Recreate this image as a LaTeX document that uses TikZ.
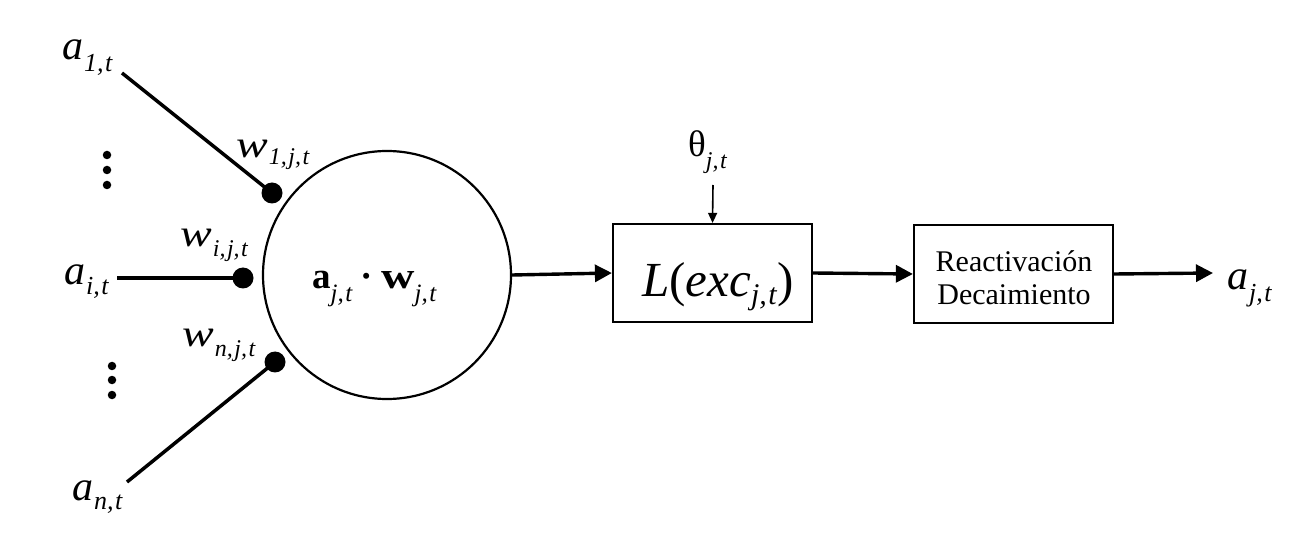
\documentclass[tikz,border=0pt]{standalone}
\usepackage{fontspec}
\setmainfont{Liberation Serif}
\usetikzlibrary{arrows.meta}
\newcommand\fz[1]{\fontsize{#1}{#1}\selectfont}
\newcommand\lowsub[3]{\raisebox{-#1pt}{\fz{#2}\textit{#3}}}
\newcommand\cm{,\kern1.5pt}
\newcommand\wideW[1]{\scalebox{1.25}[1]{#1}}
\begin{document}
\begin{tikzpicture}[x=1pt,y=-1pt,
  lbl/.style={inner sep=0pt, anchor=base west},
  wire/.style={line width=3.5pt},
  wdot/.style={circle, fill=black, inner sep=0pt, minimum size=21pt},
  vdot/.style={circle, fill=black, inner sep=0pt, minimum size=8.5pt},
  flow/.style={line width=3.4pt, -{Triangle[length=17pt,width=17pt]}},
  thinflow/.style={line width=1.6pt, -{Triangle[length=10pt,width=9pt]}},
  boxn/.style={draw, line width=2.2pt, minimum width=199pt, minimum height=98pt, inner sep=0pt},
  neuron/.style={circle, draw, line width=2.2pt, minimum size=248pt, inner sep=0pt}
]
\useasboundingbox[fill=white] (0,0) rectangle (1315,545);

% neuron body
\node[neuron] (n) at (387,275) {};
\node[lbl] (nt) at (312,289) {\fz{37}\textbf{a}\lowsub{13}{25}{j\cm t}\kern 8pt\textbf{·}\kern 8pt\wideW{\textbf{w}}\lowsub{13}{25}{j\cm t}};

% weight dots
\node[wdot] (d1) at (272,193) {};
\node[wdot] (di) at (243,278) {};
\node[wdot] (dn) at (275,362) {};

% input labels
\node[lbl] (a1) at (62,60) {\fz{42}\textit{a}\kern1pt\lowsub{12}{26}{1\cm t}};
\node[lbl] (ai) at (64,285) {\fz{42}\textit{a}\kern1pt\lowsub{10}{26}{i\cm t}};
\node[lbl] (an) at (72,500) {\fz{42}\textit{a}\kern1pt\lowsub{9}{26}{n\cm t}};

% weight labels
\node[lbl] (w1) at (236,158) {\fz{38}\wideW{\textit{w}}\kern1pt\lowsub{7}{24}{1\cm j\cm t}};
\node[lbl] (wi) at (180,247) {\fz{38}\wideW{\textit{w}}\kern1pt\lowsub{10}{24}{i\cm j\cm t}};
\node[lbl] (wn) at (182,347) {\fz{38}\wideW{\textit{w}}\kern1pt\lowsub{10}{24}{n\cm j\cm t}};

% input line start points
\coordinate (s1) at (122,73);
\coordinate (si) at (117,278);
\coordinate (sn) at (127,482);
\draw[wire] (s1) -- (d1.center);
\draw[wire] (si) -- (di.center);
\draw[wire] (sn) -- (dn.center);

% vertical ellipsis dots
\node[vdot] (e1) at (107,155) {};
\node[vdot] (e2) at (107,170) {};
\node[vdot] (e3) at (107,185) {};
\node[vdot] (f1) at (112,366) {};
\node[vdot] (f2) at (112,380) {};
\node[vdot] (f3) at (112,395) {};

% logistic box
\node[boxn] (L) at (712.5,273) {};
\node[lbl] (Lt) at (642,297) {\fz{49}\textit{L}(\textit{exc}\lowsub{8}{30}{j\cm t})};

% threshold
\node[lbl] (th) at (688,157) {\fz{37}θ\lowsub{12}{24}{j\cm t}};
\coordinate (thA) at (713,185);
\draw[thinflow] (thA) -- (L.north);

% reactivation box
\node[boxn] (R) at (1013.5,274) {};
\node[anchor=base, inner sep=0pt] (R1) at (1014,272) {\fz{30}Reactivación};
\node[anchor=base, inner sep=0pt] (R2) at (1014,305) {\fz{30}Decaimiento};

% output
\node[lbl] (out) at (1227,290) {\fz{42}\textit{a}\kern1pt\lowsub{12}{26}{j\cm t}};
\coordinate (outA) at (1213,273);

% flow arrows
\draw[flow] (n.east) -- (L.west);
\draw[flow] (L.east) -- (R.west);
\draw[flow] (R.east) -- (outA);
\end{tikzpicture}
\end{document}
